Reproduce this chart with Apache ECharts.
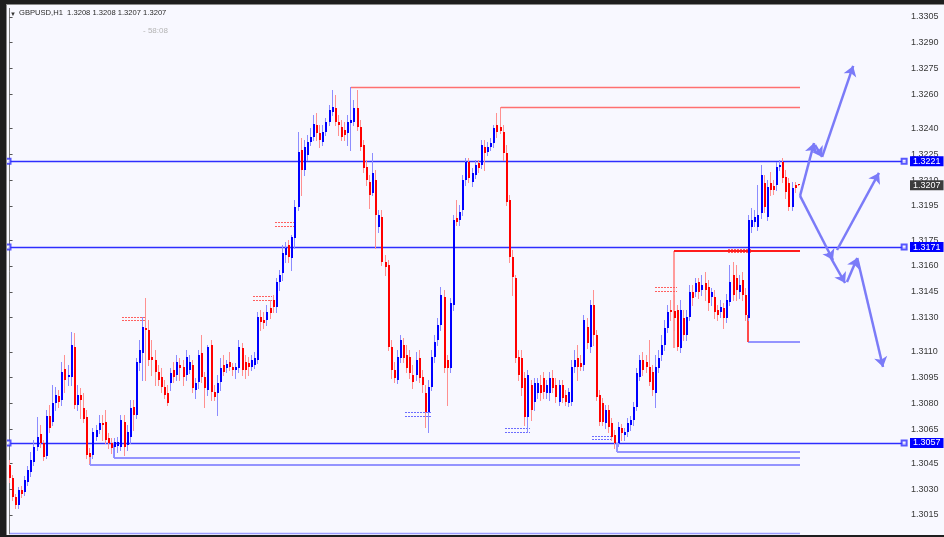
<!DOCTYPE html>
<html><head><meta charset="utf-8">
<script src="https://cdn.jsdelivr.net/npm/echarts@6/dist/echarts.min.js"></script>
<style>
html,body{margin:0;padding:0;background:#1e1e1e;width:944px;height:537px;overflow:hidden;}
#frame{position:absolute;left:6px;top:4px;width:938px;height:531px;background:#8a8a8a;}
#c{position:absolute;left:7px;top:5px;width:937px;height:530px;}
</style></head><body>
<div id="frame"></div><div id="c"></div>
<script>
const symbolName = 'GBPUSD,H1';
const opens = [1.30441,1.30366,1.30255,1.30208,1.30296,1.30284,1.30342,1.30401,1.30459,1.30546,
1.30622,1.30569,1.30494,1.30727,1.30692,1.30802,1.30843,1.30820,1.31000,1.30954,
1.30954,1.31128,1.30791,1.30849,1.30773,1.30721,1.30511,1.30500,1.30604,1.30645,
1.30686,1.30692,1.30599,1.30569,1.30546,1.30552,1.30546,1.30692,1.30558,1.30604,
1.30779,1.30732,1.31035,1.31094,1.31239,1.31227,1.31070,1.31053,1.30983,1.30954,
1.30895,1.30861,1.30919,1.30994,1.30965,1.31024,1.31012,1.30965,1.30994,1.31024,
1.30878,1.30925,1.31094,1.30954,1.30878,1.31140,1.30866,1.30861,1.30925,1.31024,
1.31006,1.31041,1.31012,1.30994,1.31006,1.31123,1.31041,1.31035,1.31012,1.31024,
1.31053,1.31303,1.31286,1.31286,1.31355,1.31402,1.31361,1.31507,1.31559,1.31664,
1.31722,1.31647,1.31763,1.31944,1.32276,1.32159,1.32246,1.32322,1.32351,1.32421,
1.32375,1.32322,1.32380,1.32439,1.32497,1.32520,1.32439,1.32410,1.32392,1.32375,
1.32433,1.32439,1.32520,1.32410,1.32305,1.32177,1.32089,1.32025,1.32101,1.31827,
1.31885,1.31623,1.31606,1.31128,1.30994,1.30936,1.31064,1.31140,1.31082,1.31070,
1.30965,1.30965,1.31064,1.30954,1.30861,1.30750,1.30895,1.31070,1.31169,1.31257,
1.31420,1.31053,1.31006,1.31373,1.31880,1.31868,1.31926,1.32101,1.32206,1.32089,
1.32130,1.32200,1.32188,1.32293,1.32264,1.32293,1.32316,1.32421,1.32410,1.32380,
1.32258,1.31984,1.31652,1.31530,1.31070,1.31064,1.30948,1.30721,1.30907,1.30808,
1.30861,1.30907,1.30948,1.30861,1.30861,1.30948,1.30907,1.30808,1.30907,1.30849,
1.30802,1.30808,1.31012,1.31064,1.31035,1.31024,1.31245,1.31128,1.31373,1.31198,
1.30849,1.30802,1.30686,1.30762,1.30686,1.30616,1.30569,1.30657,1.30616,1.30633,
1.30674,1.30703,1.30779,1.30954,1.31053,1.31041,1.31012,1.30983,1.30861,1.31006,
1.31082,1.31140,1.31239,1.31344,1.31338,1.31344,1.31123,1.31297,1.31198,1.31303,
1.31449,1.31449,1.31507,1.31460,1.31501,1.31478,1.31420,1.31420,1.31344,1.31332,
1.31355,1.31297,1.31390,1.31548,1.31530,1.31449,1.31519,1.31431,1.31297,1.31827,
1.31856,1.31827,1.31909,1.32083,1.31885,1.32083,1.32066,1.32072,1.32177,1.32206,
1.32118,1.32083,1.31944,1.32072,1.32080];
const closes = [1.30366,1.30255,1.30208,1.30296,1.30272,1.30354,1.30412,1.30470,1.30546,1.30604,
1.30569,1.30488,1.30727,1.30657,1.30802,1.30849,1.30808,1.30983,1.30936,1.30965,
1.31140,1.30791,1.30849,1.30820,1.30709,1.30500,1.30488,1.30633,1.30645,1.30686,
1.30674,1.30587,1.30569,1.30540,1.30575,1.30575,1.30703,1.30546,1.30633,1.30773,
1.30732,1.31041,1.31111,1.31245,1.31227,1.31053,1.31053,1.30983,1.30936,1.30895,
1.30849,1.30802,1.30977,1.30954,1.31041,1.31006,1.30954,1.31070,1.31041,1.30890,
1.30919,1.31082,1.30954,1.30890,1.31128,1.30866,1.30837,1.30919,1.31006,1.30983,
1.31029,1.31012,1.30994,1.31012,1.31128,1.30994,1.30994,1.31012,1.31053,1.31064,
1.31303,1.31274,1.31268,1.31332,1.31326,1.31361,1.31507,1.31548,1.31676,1.31705,
1.31652,1.31769,1.31944,1.32264,1.32159,1.32293,1.32322,1.32351,1.32427,1.32375,
1.32334,1.32380,1.32439,1.32508,1.32526,1.32439,1.32421,1.32351,1.32363,1.32439,
1.32450,1.32520,1.32410,1.32293,1.32171,1.32101,1.32014,1.32142,1.31897,1.31897,
1.31623,1.31594,1.31128,1.30994,1.30948,1.31070,1.31169,1.31064,1.31006,1.30977,
1.30925,1.31053,1.30948,1.30907,1.30750,1.30895,1.31070,1.31158,1.31257,1.31431,
1.31006,1.31006,1.31385,1.31868,1.31856,1.31915,1.32101,1.32206,1.32113,1.32142,
1.32188,1.32171,1.32305,1.32258,1.32293,1.32316,1.32404,1.32380,1.32386,1.32258,
1.31973,1.31652,1.31536,1.31064,1.30965,1.30890,1.30721,1.30965,1.30762,1.30919,
1.30919,1.30861,1.30866,1.30907,1.30948,1.30890,1.30837,1.30907,1.30831,1.30808,
1.30866,1.31012,1.31053,1.31012,1.31012,1.31286,1.31152,1.31373,1.31198,1.30837,
1.30692,1.30692,1.30762,1.30663,1.30604,1.30569,1.30663,1.30628,1.30633,1.30686,
1.30703,1.30779,1.30977,1.31053,1.30994,1.31012,1.30925,1.30878,1.31012,1.31064,
1.31140,1.31239,1.31332,1.31332,1.31297,1.31128,1.31344,1.31198,1.31303,1.31449,
1.31414,1.31501,1.31449,1.31489,1.31460,1.31385,1.31449,1.31332,1.31315,1.31361,
1.31297,1.31402,1.31507,1.31431,1.31460,1.31489,1.31431,1.31315,1.31868,1.31868,
1.31885,1.31897,1.32130,1.31944,1.32060,1.32043,1.32043,1.32177,1.32188,1.32113,
1.32031,1.31944,1.32054,1.32054,1.32070];
const highs = [1.30470,1.30383,1.30272,1.30313,1.30319,1.30377,1.30435,1.30517,1.30587,1.30721,
1.30674,1.30587,1.30762,1.30791,1.30907,1.30895,1.30878,1.31041,1.31082,1.31024,
1.31216,1.31210,1.30907,1.30890,1.30861,1.30762,1.30540,1.30657,1.30674,1.30732,
1.30732,1.30762,1.30628,1.30599,1.30599,1.30604,1.30732,1.30732,1.30674,1.30820,
1.30820,1.31064,1.31169,1.31303,1.31414,1.31286,1.31169,1.31111,1.31024,1.31006,
1.30936,1.30907,1.31006,1.31041,1.31082,1.31064,1.31053,1.31111,1.31082,1.31053,
1.30948,1.31111,1.31198,1.30983,1.31140,1.31169,1.30907,1.30965,1.31064,1.31082,
1.31053,1.31099,1.31035,1.31035,1.31169,1.31152,1.31082,1.31070,1.31082,1.31099,
1.31332,1.31344,1.31332,1.31373,1.31402,1.31431,1.31530,1.31577,1.31722,1.31740,
1.31751,1.31781,1.31984,1.32380,1.32345,1.32334,1.32363,1.32404,1.32479,1.32491,
1.32421,1.32421,1.32462,1.32538,1.32625,1.32596,1.32479,1.32450,1.32439,1.32479,
1.32642,1.32567,1.32625,1.32450,1.32334,1.32217,1.32130,1.32258,1.32159,1.31926,
1.31926,1.31664,1.31635,1.31169,1.31041,1.31111,1.31198,1.31181,1.31140,1.31111,
1.31024,1.31099,1.31111,1.30994,1.30907,1.30936,1.31111,1.31198,1.31297,1.31478,
1.31460,1.31082,1.31414,1.31897,1.31984,1.31955,1.32130,1.32229,1.32229,1.32171,
1.32217,1.32217,1.32334,1.32334,1.32322,1.32345,1.32421,1.32491,1.32526,1.32421,
1.32305,1.32014,1.31693,1.31548,1.31111,1.31111,1.30983,1.30994,1.30936,1.30948,
1.30948,1.30965,1.30983,1.30936,1.30983,1.30994,1.30948,1.30936,1.30936,1.30878,
1.30890,1.31053,1.31111,1.31140,1.31082,1.31315,1.31297,1.31402,1.31460,1.31227,
1.30878,1.30831,1.30791,1.30791,1.30715,1.30645,1.30692,1.30680,1.30657,1.30715,
1.30727,1.30808,1.31006,1.31082,1.31099,1.31082,1.31169,1.31024,1.31082,1.31111,
1.31198,1.31286,1.31373,1.31402,1.31431,1.31373,1.31402,1.31344,1.31344,1.31489,
1.31489,1.31530,1.31530,1.31548,1.31565,1.31519,1.31472,1.31460,1.31373,1.31402,
1.31385,1.31437,1.31606,1.31623,1.31606,1.31548,1.31565,1.31472,1.31897,1.31938,
1.31926,1.32072,1.32188,1.32130,1.32101,1.32147,1.32101,1.32206,1.32217,1.32229,
1.32159,1.32113,1.32089,1.32089,1.32080];
const lows = [1.30342,1.30237,1.30191,1.30191,1.30255,1.30267,1.30325,1.30377,1.30441,1.30529,
1.30546,1.30470,1.30482,1.30633,1.30674,1.30762,1.30779,1.30791,1.30866,1.30907,
1.30907,1.30773,1.30762,1.30715,1.30692,1.30482,1.30453,1.30482,1.30587,1.30628,
1.30587,1.30569,1.30540,1.30511,1.30488,1.30517,1.30529,1.30500,1.30529,1.30569,
1.30645,1.30715,1.30994,1.30936,1.30936,1.31024,1.30965,1.30907,1.30907,1.30866,
1.30831,1.30791,1.30878,1.30925,1.30936,1.30936,1.30907,1.30936,1.30977,1.30866,
1.30831,1.30890,1.30925,1.30779,1.30849,1.30820,1.30820,1.30732,1.30878,1.30965,
1.30983,1.30994,1.30965,1.30948,1.30983,1.30965,1.30948,1.30965,1.30994,1.31006,
1.31035,1.31227,1.31239,1.31257,1.31297,1.31332,1.31332,1.31460,1.31519,1.31623,
1.31623,1.31577,1.31705,1.31926,1.32014,1.32130,1.32217,1.32305,1.32334,1.32334,
1.32293,1.32305,1.32363,1.32421,1.32479,1.32421,1.32363,1.32334,1.32334,1.32305,
1.32276,1.32421,1.32392,1.32276,1.32147,1.32072,1.31938,1.32014,1.31705,1.31798,
1.31606,1.31548,1.31111,1.30948,1.30925,1.30919,1.31041,1.31041,1.30983,1.30948,
1.30890,1.30936,1.30925,1.30866,1.30663,1.30633,1.30878,1.31041,1.31140,1.31227,
1.30983,1.30791,1.30983,1.31344,1.31839,1.31839,1.31897,1.32072,1.32089,1.32066,
1.32113,1.32147,1.32171,1.32159,1.32246,1.32276,1.32293,1.32351,1.32375,1.32217,
1.31955,1.31623,1.31431,1.31041,1.30936,1.30849,1.30674,1.30633,1.30703,1.30762,
1.30831,1.30820,1.30831,1.30831,1.30820,1.30866,1.30808,1.30791,1.30808,1.30791,
1.30785,1.30791,1.30983,1.30936,1.30994,1.30994,1.31123,1.31099,1.31140,1.30820,
1.30674,1.30674,1.30657,1.30633,1.30587,1.30540,1.30552,1.30587,1.30587,1.30610,
1.30645,1.30674,1.30762,1.30936,1.30965,1.30983,1.30907,1.30849,1.30779,1.30983,
1.31053,1.31111,1.31216,1.31286,1.31227,1.31111,1.31099,1.31169,1.31169,1.31286,
1.31373,1.31425,1.31414,1.31431,1.31402,1.31344,1.31373,1.31297,1.31286,1.31303,
1.31239,1.31274,1.31373,1.31402,1.31402,1.31414,1.31402,1.31286,1.31286,1.31798,
1.31833,1.31810,1.31880,1.31915,1.31868,1.32014,1.32019,1.32043,1.32159,1.32089,
1.31996,1.31926,1.31926,1.32031,1.32070];

const tickLabels = [1.3305,1.3290,1.3275,1.3260,1.3240,1.3225,1.3210,1.3195,1.3175,1.3160,
                    1.3145,1.3130,1.3110,1.3095,1.3080,1.3065,1.3045,1.3030,1.3015];
const keyLevels = [1.3221, 1.3171, 1.3057];
const countdown = '- 58:08';
const slotCount = 289;
const drawEnd = 254.4;
const handleEnds = [-0.5, 287.9];

// drawn chart objects (bar index, price)
const redLevels = [[110, 1.32642], [158, 1.32526]];
const boldRedLevel = [213.9, 1.31690, 1.31125];       // start, level, vertical foot
const lowerBlueLevel = [237.6, 1.31159, 1.31315];     // start, level, red riser top
const supportLevels = [[195.6, 1.30517, 1.30569], [33.7, 1.30482, 1.30569], [25.9, 1.30441, 1.30500]];
const floorLevel = [0, 1.30046];
const redMarks = [[36.2, 43.6, 1.31303, 1.31286], [78.4, 84.5, 1.31425, 1.31402], [85.4, 91.9, 1.31856, 1.31833],
                  [207.7, 214.8, 1.31478, 1.31455], [231.2, 239.0, 1.31699, 1.31682]];
const blueMarks = [[127.3, 136.0, 1.30750, 1.30727], [159.5, 167.5, 1.30657, 1.30633], [187.5, 194.0, 1.30610, 1.30593]];
const arrowPaths = [
  [[254.4, 1.32008], [258.9, 1.32316]],
  [[259.2, 1.32305], [261.5, 1.32235]],
  [[261.5, 1.32235], [271.5, 1.32765]],
  [[254.4, 1.32008], [265.0, 1.31635]],
  [[263.4, 1.31676], [268.9, 1.31501]],
  [[269.5, 1.31507], [272.8, 1.31647]],
  [[272.8, 1.31647], [281.1, 1.31012]],
  [[266.3, 1.31693], [279.8, 1.32142]]
];

// segment styles (kept apart from the data)
const segStyles = [
  {color: '#ff7070', width: 1.4},          // 0 thin red level
  {color: '#ff1c1c', width: 2},            // 1 bold red level
  {color: '#ff9c9c', width: 2},            // 2 pink riser
  {color: '#ff4a4a', width: 2},            // 3 red riser
  {color: '#9494ff', width: 2},            // 4 blue level
  {color: '#9c9cff', width: 1.4},          // 5 floor
  {color: '#ff6060', width: 1, dash: [2, 1]}, // 6 red dotted marks
  {color: '#6c6cff', width: 1, dash: [2, 1]}, // 7 blue dotted marks
  {color: '#2e2eff', width: 1.4}           // 8 key horizontal level
];

const last = opens.length - 1;
const bidPrice = closes[last];
const candleData = opens.map((o, i) => [i, o, closes[i], lows[i], highs[i]]);

const segRows = [];
const addSeg = (x1, p1, x2, p2, k) => segRows.push([x1, p1, x2, p2, k]);
keyLevels.forEach(p => addSeg(-0.5, p, slotCount - 0.5, p, 8));
redLevels.forEach(([s, p]) => addSeg(s, p, drawEnd, p, 0));
addSeg(boldRedLevel[0], boldRedLevel[1], boldRedLevel[0], boldRedLevel[2], 2);
addSeg(boldRedLevel[0], boldRedLevel[1], drawEnd, boldRedLevel[1], 1);
addSeg(lowerBlueLevel[0], lowerBlueLevel[1], drawEnd, lowerBlueLevel[1], 4);
addSeg(lowerBlueLevel[0], lowerBlueLevel[2], lowerBlueLevel[0], lowerBlueLevel[1], 3);
supportLevels.forEach(([s, p, top]) => { addSeg(s, p, drawEnd, p, 4); addSeg(s, top, s, p, 4); });
addSeg(floorLevel[0], floorLevel[1], drawEnd, floorLevel[1], 5);
redMarks.forEach(([a, b, p1, p2]) => { addSeg(a, p1, b, p1, 6); addSeg(a, p2, b, p2, 6); });
blueMarks.forEach(([a, b, p1, p2]) => { addSeg(a, p1, b, p1, 7); addSeg(a, p2, b, p2, 7); });
const handleData = [];
keyLevels.forEach(p => handleEnds.forEach(x => handleData.push([x, p])));

const chart = echarts.init(document.getElementById('c'), null, {renderer: 'canvas'});
const fmt = v => Number(v).toFixed(4);
const keyBlue = '#2e2eff';
chart.setOption({
  animation: false,
  backgroundColor: '#f8f8ff',
  title: [
    {text: '\u25BC', left: 3, top: 6, padding: 0, textStyle: {fontSize: 6, color: '#333', fontWeight: 'normal'}},
    {text: symbolName + '  ' + [opens[last], highs[last], lows[last], closes[last]].map(fmt).join(' '),
     left: 12, top: 4, padding: 0, textStyle: {fontSize: 7.6, color: '#2a2a2a', fontWeight: 'normal', fontFamily: 'Liberation Sans'}},
    {text: countdown, left: 136, top: 22, padding: 0, textStyle: {fontSize: 8, color: '#b4b4b4', fontWeight: 'normal', fontFamily: 'Liberation Sans'}}
  ],
  grid: {left: 1, right: 38, top: 3.4, bottom: 1.1, show: false},
  xAxis: {type: 'value', min: -0.5, max: slotCount - 0.5, show: false},
  yAxis: {
    type: 'value', position: 'right', min: 1.3004, max: 1.3310, scale: true,
    splitLine: {show: false},
    axisLine: {show: true, lineStyle: {color: '#7a7a7a', width: 1}},
    axisTick: {show: true, length: 3, customValues: tickLabels, lineStyle: {color: '#555'}},
    axisLabel: {show: true, customValues: tickLabels, formatter: fmt, margin: 5, color: '#3a3a3a',
                fontSize: 9, fontFamily: 'Liberation Sans'}
  },
  series: [
    {
      type: 'custom', z: 1, silent: true, clip: false,
      encode: {x: [0, 2], y: [1, 3]},
      data: segRows,
      renderItem: function (params, api) {
        const st = segStyles[api.value(4)];
        const a = api.coord([api.value(0), api.value(1)]);
        const b = api.coord([api.value(2), api.value(3)]);
        const half = Math.round(st.width) % 2 ? 0.5 : 0;
        let x1 = a[0], y1 = a[1], x2 = b[0], y2 = b[1];
        if (Math.abs(y1 - y2) < 0.01) { y1 = y2 = Math.round(y1) + half; x1 = Math.round(x1); x2 = Math.round(x2); }
        else { x1 = x2 = Math.round(x1) + half; y1 = Math.round(y1); y2 = Math.round(y2); }
        return {type: 'line', shape: {x1: x1, y1: y1, x2: x2, y2: y2},
                style: {stroke: st.color, lineWidth: st.width, lineDash: st.dash || null}};
      }
    },
    {
      type: 'scatter', silent: true, z: 2, clip: false,
      symbol: 'emptyRect', symbolSize: 5,
      itemStyle: {color: keyBlue, borderColor: keyBlue, borderWidth: 1},
      data: handleData
    },
    {
      type: 'line', data: [], silent: true, z: 2, color: keyBlue, symbol: 'none',
      lineStyle: {color: keyBlue},
      markLine: {
        silent: true, animation: false, precision: 4,
        symbol: 'none',
        lineStyle: {color: 'rgba(0,0,255,0)', width: 1, type: 'solid'},
        label: {show: true, position: 'end', distance: 4, formatter: p => fmt(p.value),
                backgroundColor: '#0000ff', color: '#ffffff', fontSize: 9, padding: [1, 3, 0, 3],
                fontFamily: 'Liberation Sans'},
        emphasis: {disabled: true},
        data: keyLevels.map(v => ({yAxis: v})).concat([
          {yAxis: bidPrice, label: {backgroundColor: '#3c3c3c', color: '#ffffff'}}
        ])
      }
    },
    {
      type: 'custom', z: 3, silent: true, clip: true,
      encode: {x: 0, y: [1, 2, 3, 4]},
      data: candleData,
      renderItem: function (params, api) {
        const i = api.value(0), o = api.value(1), c = api.value(2), l = api.value(3), h = api.value(4);
        const po = api.coord([i, o]), pc = api.coord([i, c]), pl = api.coord([i, l]), ph = api.coord([i, h]);
        const up = c > o;
        const x = Math.round(po[0]) - 1;
        const top = Math.round(Math.min(po[1], pc[1]));
        const bot = Math.round(Math.max(po[1], pc[1]));
        return {
          type: 'group',
          children: [
            {type: 'line', shape: {x1: x + 0.5, y1: Math.round(ph[1]), x2: x + 0.5, y2: Math.round(pl[1]) + 1},
             style: {stroke: up ? '#8c8cff' : '#ff9090', lineWidth: 1}},
            {type: 'rect', shape: {x: x, y: top, width: 2, height: Math.max(1, bot - top)},
             style: {fill: up ? '#0000ff' : '#ff0000'}}
          ]
        };
      }
    },
    {
      type: 'lines', coordinateSystem: 'cartesian2d', polyline: false, silent: true, z: 4,
      symbol: ['none', 'arrow'], symbolSize: 10, color: '#7b7bf8',
      lineStyle: {color: '#7b7bf8', width: 2.5, opacity: 1},
      data: arrowPaths.map(p => ({coords: p}))
    }
  ]
});
</script>
</body></html>
